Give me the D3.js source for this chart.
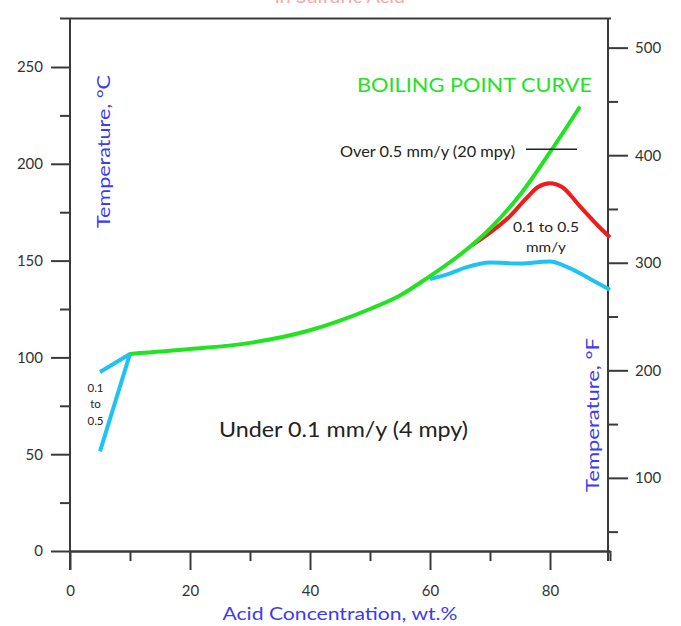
<!DOCTYPE html>
<html>
<head>
<meta charset="utf-8">
<script src="https://cdn.jsdelivr.net/npm/d3@7"></script>
<style>
  html, body { margin: 0; padding: 0; background: #fff; }
  svg { display: block; font-family: Lato, "Open Sans", sans-serif; }
</style>
</head>
<body>
<svg id="chart" width="681" height="626"></svg>
<script>
// ---------------- data ----------------
// Boiling point curve (green)
const boilConc = [10, 20, 30, 40, 45, 50, 55, 60, 65, 70, 75, 80, 85];
const boilTemp = [101.8, 104.3, 107.5, 114, 119, 125, 132, 142, 153, 166.5, 184, 206, 229.5];
// 0.5 mm/y iso-corrosion line (red)
const redConc = [67, 70, 73, 76, 78, 80, 82, 85, 88, 90];
const redTemp = [158, 164.5, 172, 182, 188, 190, 188, 178, 168, 162];
// 0.1 mm/y iso-corrosion line, high concentration (blue)
const blueConc = [60, 63, 66, 70, 75, 80, 83, 87, 90];
const blueTemp = [140.5, 143, 146.5, 149, 148.5, 149.5, 146.5, 140, 135];
// 0.1 / 0.5 lines, low concentration (blue)
const blueLowConc = [5, 10, 5];
const blueLowTemp = [51.5, 101.8, 92.5];
// marker line for "Over 0.5 mm/y"
const overLineConc = [76, 84.5];
const overLineTemp = [207.5, 207.5];

// axes ticks
const xMajorTicks = [0, 20, 40, 60, 80];
const xMinorTicks = [10, 30, 50, 70, 90];
const cMajorTicks = [0, 50, 100, 150, 200, 250];
const cMinorTicks = [25, 75, 125, 175, 225];
const fMajorTicks = [100, 200, 300, 400, 500];
const fMinorTicks = [50, 150, 250, 350, 450];

// ---------------- layout ----------------
const svg = d3.select("#chart");
const x = d3.scaleLinear().domain([0, 90]).range([70, 610]);
const yC = d3.scaleLinear().domain([0, 250]).range([551, 67]);
const cTop = 275;
const yF = d3.scaleLinear().domain([32, 32 + cTop * 1.8]).range([yC(0), yC(cTop)]);

const axisColor = "#3a3a3a";
const tickText = "#333";

// title (mostly clipped at the top, as in the reference)
svg.append("text")
  .attr("x", 340).attr("y", 3)
  .attr("text-anchor", "middle")
  .attr("font-size", 20)
  .attr("fill", "#f07070")
  .attr("opacity", 0.6)
  .text("in Sulfuric Acid");

function styleAxis(g) {
  g.selectAll("path.domain").attr("stroke", axisColor).attr("stroke-width", 2);
  g.selectAll(".tick line").attr("stroke", axisColor).attr("stroke-width", 2);
  g.selectAll(".tick text").attr("fill", tickText).attr("font-size", 15).attr("font-family", "Lato, sans-serif");
}

// top frame line
svg.append("line")
  .attr("x1", 60).attr("x2", 611)
  .attr("y1", yC(cTop)).attr("y2", yC(cTop))
  .attr("stroke", axisColor).attr("stroke-width", 2);

// x axis
const gx = svg.append("g").attr("transform", `translate(0,${yC(0)})`);
gx.append("g").call(d3.axisBottom(x).tickValues(xMinorTicks).tickSize(10).tickSizeOuter(0).tickFormat(""))
  .call(styleAxis);
gx.append("g").call(d3.axisBottom(x).tickValues(xMajorTicks).tickSize(19).tickSizeOuter(0).tickPadding(15).tickFormat(d3.format("d")))
  .call(styleAxis);

// left axis (°C)
const gl = svg.append("g").attr("transform", `translate(${x(0)},0)`);
gl.append("g").call(d3.axisLeft(yC).tickValues(cMinorTicks).tickSize(10).tickSizeOuter(0).tickFormat(""))
  .call(g => g.select("path.domain").remove()).call(styleAxis);
gl.append("g").call(d3.axisLeft(yC).tickValues(cMajorTicks).tickSize(19).tickSizeOuter(0).tickPadding(8).tickFormat(d3.format("d")))
  .call(g => g.select("path.domain").remove()).call(styleAxis);
gl.append("line").attr("x1", 0).attr("x2", 0).attr("y1", yC(cTop)).attr("y2", yC(0) + 19)
  .attr("stroke", axisColor).attr("stroke-width", 2);

// right axis (°F)
const gr = svg.append("g").attr("transform", `translate(${x(90) - 2},0)`);
gr.append("g").call(d3.axisRight(yF).tickValues(fMinorTicks).tickSize(10).tickSizeOuter(0).tickFormat(""))
  .call(g => g.select("path.domain").remove()).call(styleAxis);
gr.append("g").call(d3.axisRight(yF).tickValues(fMajorTicks).tickSize(20).tickSizeOuter(0).tickPadding(7).tickFormat(d3.format("d")))
  .call(g => g.select("path.domain").remove()).call(styleAxis);
gr.append("line").attr("x1", 0).attr("x2", 0).attr("y1", yC(cTop)).attr("y2", yC(0) + 10)
  .attr("stroke", axisColor).attr("stroke-width", 2);

// ---------------- lines ----------------
function pts(cs, ts) { return cs.map((c, i) => [c, ts[i]]); }
const lineSmooth = d3.line().x(d => x(d[0])).y(d => yC(d[1])).curve(d3.curveMonotoneX);
const lineStraight = d3.line().x(d => x(d[0])).y(d => yC(d[1]));

const cyan = "#1ec3f4";
svg.append("path").attr("d", lineSmooth(pts(blueConc, blueTemp)))
  .attr("fill", "none").attr("stroke", cyan).attr("stroke-width", 4).attr("stroke-linejoin", "round");
svg.append("path").attr("d", lineStraight(pts(blueLowConc, blueLowTemp)))
  .attr("fill", "none").attr("stroke", cyan).attr("stroke-width", 4).attr("stroke-linejoin", "round");
svg.append("path").attr("d", lineSmooth(pts(redConc, redTemp)))
  .attr("fill", "none").attr("stroke", "#ee1c1c").attr("stroke-width", 4).attr("stroke-linejoin", "round");
svg.append("path").attr("d", lineSmooth(pts(boilConc, boilTemp)))
  .attr("fill", "none").attr("stroke", "#22e322").attr("stroke-width", 4).attr("stroke-linejoin", "round");
svg.append("path").attr("d", lineStraight(pts(overLineConc, overLineTemp)))
  .attr("fill", "none").attr("stroke", "#222").attr("stroke-width", 1.5);

// ---------------- annotations ----------------
function label(txt, px, py, size, color, anchor, len) {
  const t = svg.append("text").attr("x", px).attr("y", py)
    .attr("font-size", size).attr("fill", color)
    .attr("text-anchor", anchor || "start").text(txt);
  if (len) t.attr("textLength", len).attr("lengthAdjust", "spacingAndGlyphs");
  return t;
}
label("BOILING POINT CURVE", 357, 92, 20, "#22e322", "start", 235);
label("Over 0.5 mm/y (20 mpy)", 340, 157, 14.5, "#222", "start", 175);
label("0.1 to 0.5", 546, 232, 13.5, "#222", "middle", 66);
label("mm/y", 546, 252, 13.5, "#222", "middle", 40);
label("Under 0.1 mm/y (4 mpy)", 219, 437, 21, "#222", "start", 249);
label("0.1", 95.5, 392, 11.5, "#222", "middle");
label("to", 95.5, 408, 11.5, "#222", "middle");
label("0.5", 95.5, 425, 11.5, "#222", "middle");

const axisLabelColor = "#3b3bf0";
svg.append("text").attr("transform", "translate(110,151.5) rotate(-90)")
  .attr("text-anchor", "middle").attr("font-size", 17).attr("fill", axisLabelColor)
  .attr("textLength", 153).attr("lengthAdjust", "spacingAndGlyphs")
  .text("Temperature, °C");
svg.append("text").attr("transform", "translate(599,415) rotate(-90)")
  .attr("text-anchor", "middle").attr("font-size", 17).attr("fill", axisLabelColor)
  .attr("textLength", 154).attr("lengthAdjust", "spacingAndGlyphs")
  .text("Temperature, °F");
svg.append("text").attr("x", 340).attr("y", 620)
  .attr("text-anchor", "middle").attr("font-size", 18).attr("fill", axisLabelColor)
  .attr("textLength", 235).attr("lengthAdjust", "spacingAndGlyphs")
  .text("Acid Concentration, wt.%");
</script>
</body>
</html>
